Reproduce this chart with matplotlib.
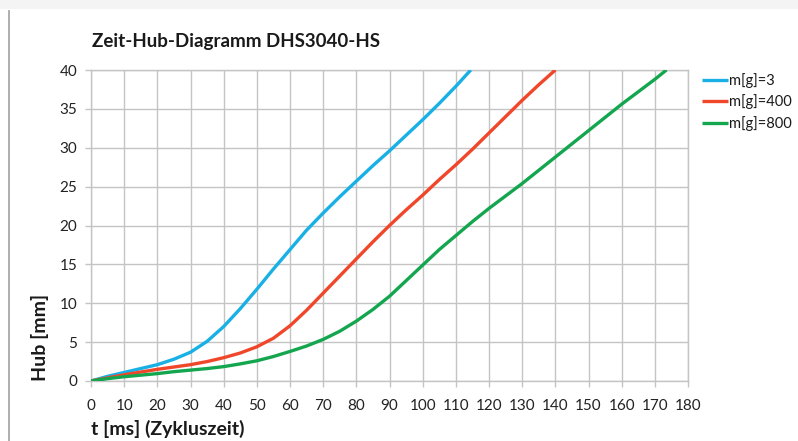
import matplotlib
matplotlib.use("Agg")
import matplotlib.pyplot as plt
from matplotlib.lines import Line2D
from matplotlib.patches import Rectangle

# ---- data ----
t_m3 = [0, 5, 10, 15, 20, 25, 30, 35, 40, 45, 50, 55, 60, 65, 70, 75, 80, 85, 90, 95, 100, 105, 110, 114.5]
h_m3 = [0, 0.6, 1.1, 1.6, 2.1, 2.8, 3.7, 5.1, 7.0, 9.3, 11.8, 14.4, 16.9, 19.4, 21.6, 23.7, 25.7, 27.7, 29.6, 31.6, 33.6, 35.7, 37.9, 40]

t_m400 = [0, 5, 10, 15, 20, 25, 30, 35, 40, 45, 50, 55, 60, 65, 70, 75, 80, 85, 90, 95, 100, 105, 110, 115, 120, 125, 130, 135, 140]
h_m400 = [0, 0.4, 0.8, 1.15, 1.5, 1.8, 2.1, 2.5, 3.0, 3.6, 4.4, 5.5, 7.1, 9.1, 11.3, 13.5, 15.7, 17.9, 20.0, 22.0, 23.9, 25.9, 27.8, 29.8, 31.9, 34.0, 36.1, 38.1, 40]

t_m800 = [0, 5, 10, 15, 20, 25, 30, 35, 40, 45, 50, 55, 60, 65, 70, 75, 80, 85, 90, 95, 100, 105, 110, 115, 120, 125, 130, 135, 140, 145, 150, 155, 160, 165, 170, 173.5]
h_m800 = [0, 0.3, 0.55, 0.75, 0.95, 1.2, 1.4, 1.6, 1.85, 2.2, 2.6, 3.15, 3.8, 4.5, 5.35, 6.4, 7.7, 9.2, 10.9, 12.9, 14.9, 16.9, 18.7, 20.5, 22.2, 23.8, 25.4, 27.1, 28.8, 30.5, 32.2, 33.9, 35.6, 37.2, 38.8, 40]

series_labels = ["m[g]=3", "m[g]=400", "m[g]=800"]
series_colors = ["#19b0e6", "#f0472b", "#14a64f"]

title = "Zeit-Hub-Diagramm DHS3040-HS"
xlabel = "t [ms] (Zykluszeit)"
ylabel = "Hub [mm]"
xticks = list(range(0, 181, 10))
yticks = list(range(0, 41, 5))

plt.rcParams['font.family'] = ['Lato', 'DejaVu Sans']

fig = plt.figure(figsize=(7.98, 4.41), dpi=100)
fig.patch.set_facecolor("white")

# page decorations: light top band and left frame line
fig.patches.append(Rectangle((0, 1 - 9 / 441), 1, 9 / 441, transform=fig.transFigure,
                             facecolor="#f4f4f4", edgecolor="none", zorder=0))
fig.lines.append(Line2D([8.5 / 798, 8.5 / 798], [0, 1 - 11 / 441], transform=fig.transFigure,
                        color="#a8a8a8", linewidth=1.3))

ax = fig.add_axes([91 / 798, 1 - 381 / 441, (688 - 91) / 798, (381 - 70) / 441])

grid_c = "#c4c4c4"
for xs, ys, lab, c in zip([t_m3, t_m400, t_m800], [h_m3, h_m400, h_m800], series_labels, series_colors):
    ax.plot(xs, ys, color=c, linewidth=2.4, label=lab, solid_capstyle="butt",
            solid_joinstyle="round", zorder=3)

ax.set_xlim(0, 180)
ax.set_ylim(0, 40)
ax.set_xticks(xticks)
ax.set_yticks(yticks)
ax.grid(True, color=grid_c, linewidth=1.0)
ax.set_axisbelow(True)
for s in ax.spines.values():
    s.set_color(grid_c)
    s.set_linewidth(1.0)
ax.tick_params(axis="both", colors=grid_c, length=4, width=1.0, labelcolor="#222222", labelsize=11)
ax.tick_params(axis="x", pad=9)
ax.tick_params(axis="y", pad=6)

fig.text(92 / 798, 1 - 42 / 441, title, fontsize=13.5, fontweight="bold", color="#1a1a1a",
         ha="left", va="center")
fig.text(91 / 798, 1 - 429 / 441, xlabel, fontsize=14, fontweight="bold", color="#1a1a1a",
         ha="left", va="center")
fig.text(40 / 798, 1 - 337 / 441, ylabel, fontsize=14, fontweight="bold", color="#1a1a1a",
         ha="center", va="center", rotation=90)

leg = ax.legend(loc="upper left", bbox_to_anchor=(702 / 798, 1 - 73 / 441), bbox_transform=fig.transFigure,
                frameon=False, fontsize=10.5, handlelength=1.75, handletextpad=0.1,
                labelspacing=0.45, borderaxespad=0, borderpad=0)
for txt in leg.get_texts():
    txt.set_color("#1a1a1a")

fig.savefig("out.png", dpi=100, facecolor="white")
